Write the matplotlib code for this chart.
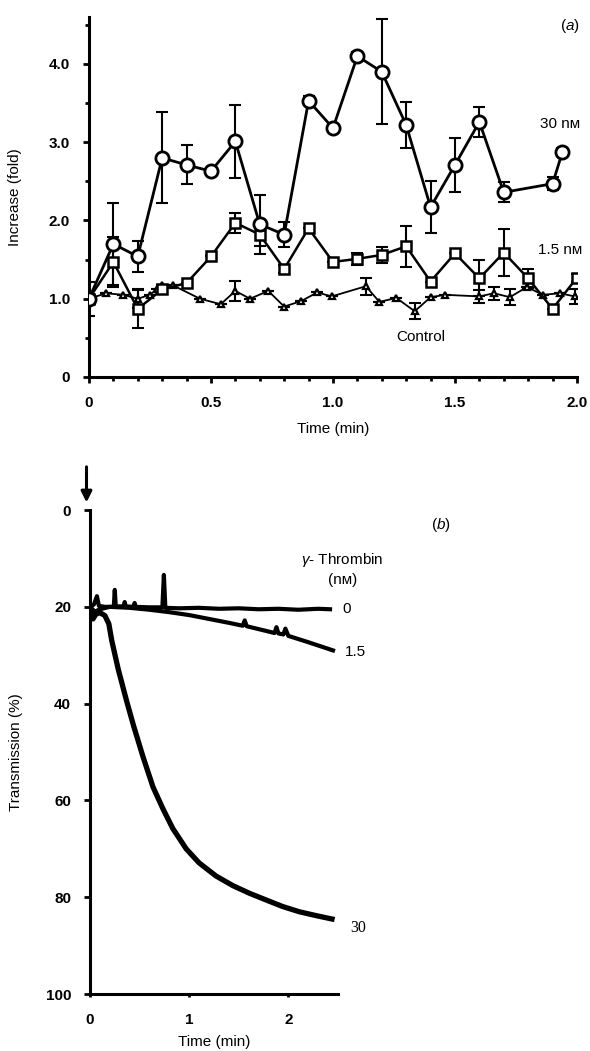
import matplotlib
matplotlib.use("Agg")
import matplotlib.pyplot as plt
from matplotlib.ticker import MultipleLocator

plt.rcParams['font.family'] = ['Liberation Sans', 'DejaVu Sans']
plt.rcParams['mathtext.fontset'] = 'custom'
plt.rcParams['mathtext.it'] = 'Liberation Sans:italic'
plt.rcParams['mathtext.rm'] = 'Liberation Sans'

# ---- panel (a): fold increase over time ----
t_30 = [0, 0.1, 0.2, 0.3, 0.4, 0.5, 0.6, 0.7, 0.8, 0.9, 1.0, 1.1, 1.2, 1.3,
        1.4, 1.5, 1.6, 1.7, 1.9, 1.94]
v_30 = [1.0, 1.70, 1.54, 2.80, 2.71, 2.63, 3.01, 1.95, 1.82, 3.53, 3.18, 4.10,
        3.90, 3.22, 2.17, 2.71, 3.26, 2.36, 2.47, 2.87]
err_30 = [0.22, 0.52, 0.20, 0.58, 0.25, 0, 0.47, 0.38, 0.16, 0.06, 0, 0.05,
          0.67, 0.29, 0.33, 0.35, 0.19, 0.13, 0.08, 0.05]

t_15 = [0, 0.1, 0.2, 0.3, 0.4, 0.5, 0.6, 0.7, 0.8, 0.9, 1.0, 1.1, 1.2, 1.3,
        1.4, 1.5, 1.6, 1.7, 1.8, 1.9, 2.0]
v_15 = [1.0, 1.47, 0.87, 1.12, 1.20, 1.54, 1.97, 1.82, 1.38, 1.90, 1.47, 1.51,
        1.56, 1.67, 1.22, 1.58, 1.26, 1.59, 1.26, 0.87, 1.27]
err_15 = [0, 0.32, 0.24, 0.05, 0, 0, 0.13, 0.15, 0.05, 0, 0, 0.08, 0.10,
          0.26, 0, 0, 0.23, 0.30, 0.12, 0, 0.05]

t_ctl = [0, 0.07, 0.14, 0.2, 0.25, 0.28, 0.3, 0.345, 0.455, 0.54, 0.6, 0.66,
         0.735, 0.8, 0.87, 0.935, 0.995, 1.135, 1.19, 1.26, 1.335, 1.4, 1.46,
         1.6, 1.66, 1.725, 1.795, 1.86, 1.93, 1.99]
v_ctl = [1.0, 1.07, 1.05, 1.0, 1.05, 1.13, 1.17, 1.17, 1.0, 0.93, 1.10, 1.0,
         1.10, 0.90, 0.97, 1.08, 1.03, 1.16, 0.96, 1.01, 0.84, 1.02, 1.05,
         1.03, 1.07, 1.02, 1.15, 1.05, 1.07, 1.03]
err_ctl = [0, 0, 0, 0.12, 0, 0, 0, 0, 0, 0, 0.13, 0, 0, 0, 0, 0, 0, 0.11, 0,
           0, 0.10, 0, 0, 0.08, 0.08, 0.10, 0, 0, 0, 0.10]

# ---- panel (b): transmission traces ----
t_b0 = [0, 0.04, 0.07, 0.09, 0.15, 0.24, 0.25, 0.26, 0.34, 0.35, 0.36, 0.44,
        0.45, 0.46, 0.6, 0.73, 0.745, 0.76, 0.9, 1.1, 1.3, 1.5, 1.7, 1.9, 2.1,
        2.3, 2.42]
v_b0 = [20, 19.5, 17.8, 19.8, 20, 20, 16.5, 19.9, 19.9, 19.0, 19.9, 20.0,
        19.2, 20.0, 20.1, 20.1, 13.4, 20.2, 20.3, 20.2, 20.4, 20.3, 20.5, 20.4,
        20.6, 20.4, 20.5]

t_b15 = [0, 0.05, 0.1, 0.2, 0.4, 0.6, 0.8, 1.0, 1.2, 1.4, 1.54, 1.56, 1.58,
         1.7, 1.86, 1.88, 1.9, 1.95, 1.97, 2.0, 2.2, 2.45]
v_b15 = [20, 21, 20.5, 20, 20.2, 20.6, 21.1, 21.7, 22.5, 23.3, 23.9, 22.8,
         24.0, 24.6, 25.4, 24.2, 25.5, 25.7, 24.5, 26.0, 27.3, 29.0]

t_b30 = [0, 0.03, 0.06, 0.1, 0.15, 0.19, 0.22, 0.285, 0.37, 0.44, 0.535,
         0.635, 0.735, 0.835, 0.97, 1.1, 1.27, 1.44, 1.61, 1.78, 1.94, 2.11,
         2.28, 2.44]
v_b30 = [20, 22.5, 21.5, 21.2, 21.8, 23.5, 27.0, 32.9, 39.5, 44.6, 51.0, 57.2,
         61.7, 65.8, 70.0, 72.9, 75.6, 77.6, 79.2, 80.6, 81.9, 83.0, 83.8, 84.5]

fig = plt.figure(figsize=(5.9, 10.51), dpi=100)

# panel (a)
ax1 = fig.add_axes([0.1508, 0.6413, 0.8271, 0.3425])
ax1.errorbar(t_ctl, v_ctl, yerr=err_ctl, fmt='none', ecolor='k', elinewidth=1.5,
             capsize=4, capthick=1.5, zorder=2)
ax1.errorbar(t_15, v_15, yerr=err_15, fmt='none', ecolor='k', elinewidth=1.5,
             capsize=4, capthick=1.5, zorder=2)
ax1.errorbar(t_30, v_30, yerr=err_30, fmt='none', ecolor='k', elinewidth=1.5,
             capsize=4, capthick=1.5, zorder=2)
ax1.plot(t_ctl, v_ctl, '-^', color='k', lw=1.3, ms=5, mfc='white', mew=1.6, zorder=3)
ax1.plot(t_15, v_15, '-s', color='k', lw=1.8, ms=6.5, mfc='white', mew=1.8, zorder=4)
ax1.plot(t_30, v_30, '-o', color='k', lw=2.0, ms=9.5, mfc='white', mew=2.0, zorder=5)

ax1.set_xlim(0, 2.0)
ax1.set_ylim(0, 4.6)
ax1.set_xticks([0, 0.5, 1.0, 1.5, 2.0])
ax1.set_xticklabels(['0', '0.5', '1.0', '1.5', '2.0'])
ax1.set_yticks([0, 1, 2, 3, 4])
ax1.set_yticklabels(['0', '1.0', '2.0', '3.0', '4.0'])
ax1.xaxis.set_minor_locator(MultipleLocator(0.1))
ax1.yaxis.set_minor_locator(MultipleLocator(0.5))
ax1.set_xlabel('Time (min)', fontsize=11)
ax1.set_ylabel('Increase (fold)', fontsize=11)
ax1.yaxis.set_label_coords(-0.137, 0.5)
ax1.xaxis.set_label_coords(0.5, -0.125)

ax1.text(1.97, 4.49, r'($\mathit{a}$)', fontsize=11, ha='center', va='center')
ax1.text(1.93, 3.23, '30 nм', fontsize=11, ha='center', va='center')
ax1.text(1.93, 1.62, '1.5 nм', fontsize=11, ha='center', va='center')
ax1.text(1.36, 0.51, 'Control', fontsize=11, ha='center', va='center')

# panel (b)
ax2 = fig.add_axes([0.1525, 0.0542, 0.4203, 0.4605])
ax2.plot(t_b0, v_b0, color='k', lw=3.0, solid_joinstyle='round')
ax2.plot(t_b15, v_b15, color='k', lw=3.0, solid_joinstyle='round')
ax2.plot(t_b30, v_b30, color='k', lw=3.8, solid_joinstyle='round')
ax2.set_xlim(0, 2.5)
ax2.set_ylim(100, 0)
ax2.set_xticks([0, 1, 2])
ax2.set_yticks([0, 20, 40, 60, 80, 100])
ax2.set_xlabel('Time (min)', fontsize=11)
ax2.set_ylabel('Transmission (%)', fontsize=11)
ax2.yaxis.set_label_coords(-0.27, 0.5)
ax2.xaxis.set_label_coords(0.5, -0.085)
ax2.annotate('', xy=(-0.035, -1.0), xytext=(-0.035, -9.5),
             arrowprops=dict(arrowstyle='-|>', lw=2.2, color='k', mutation_scale=16),
             annotation_clip=False)

fig.text(0.747, 0.5005, r'($\mathit{b}$)', fontsize=11, ha='center', va='center')
fig.text(0.580, 0.4672, r'$\mathit{\gamma}$- Thrombin', fontsize=11, ha='center', va='center')
fig.text(0.580, 0.4480, '(nм)', fontsize=11, ha='center', va='center')
fig.text(0.580, 0.4205, '0', fontsize=11, ha='left', va='center')
fig.text(0.585, 0.3796, '1.5', fontsize=11, ha='left', va='center')
fig.text(0.593, 0.1170, '30', fontsize=11.5, ha='left', va='center',
         family='Liberation Serif')

for ax in (ax1, ax2):
    ax.spines['top'].set_visible(False)
    ax.spines['right'].set_visible(False)
    ax.spines['left'].set_linewidth(2.2)
    ax.spines['bottom'].set_linewidth(2.2)
    ax.tick_params(which='major', direction='out', length=4.5, width=2.0,
                   labelsize=11, pad=9)
    ax.tick_params(which='minor', direction='out', length=3, width=2.0)
    for lab in ax.get_xticklabels() + ax.get_yticklabels():
        lab.set_fontweight('bold')

ax2.tick_params(axis='x', which='major', length=2.5, pad=11)

fig.savefig('out.png', dpi=100)
